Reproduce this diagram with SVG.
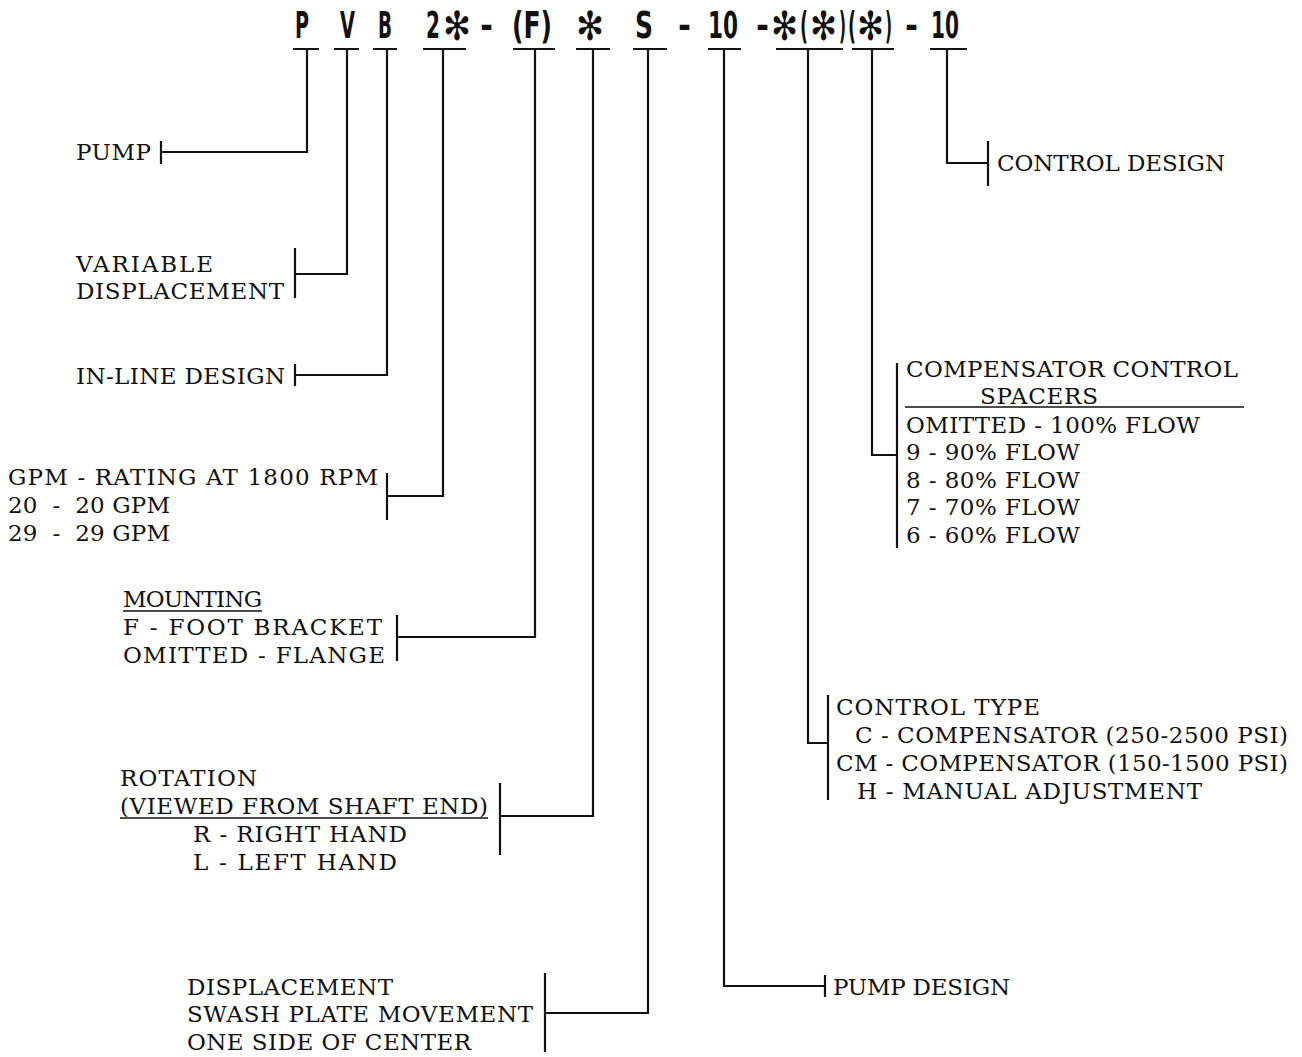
<svg xmlns="http://www.w3.org/2000/svg" width="1302" height="1057" viewBox="0 0 1302 1057">
<style>
.hd{font-family:"DejaVu Sans","Liberation Sans",sans-serif;font-weight:bold;font-size:38px;fill:#111}
.st{font-family:"DejaVu Sans","Liberation Sans",sans-serif;font-weight:normal;font-size:40px}
.t{font-family:"DejaVu Serif","Liberation Serif",serif;font-size:23px;fill:#111}
.ln{stroke:#111;stroke-width:2.2;fill:none}
.ul{stroke:#111;stroke-width:1.5}
</style>
<rect width="1302" height="1057" fill="#fff"/>
<g id="header">
<text class="hd" y="38"><tspan x="295" textLength="14" lengthAdjust="spacingAndGlyphs">P</tspan><tspan x="340" textLength="15" lengthAdjust="spacingAndGlyphs">V</tspan><tspan x="378" textLength="14" lengthAdjust="spacingAndGlyphs">B</tspan><tspan x="426" textLength="14" lengthAdjust="spacingAndGlyphs">2</tspan><tspan class="st" x="443" y="40" textLength="28" lengthAdjust="spacingAndGlyphs">✻</tspan><tspan x="480" y="38" textLength="13" lengthAdjust="spacingAndGlyphs">-</tspan><tspan x="512" textLength="40" lengthAdjust="spacingAndGlyphs">(F)</tspan><tspan class="st" x="576" y="40" textLength="28" lengthAdjust="spacingAndGlyphs">✻</tspan><tspan x="635" y="38" textLength="18" lengthAdjust="spacingAndGlyphs">S</tspan><tspan x="678" textLength="13" lengthAdjust="spacingAndGlyphs">-</tspan><tspan x="708" textLength="30" lengthAdjust="spacingAndGlyphs">10</tspan><tspan x="756" textLength="13" lengthAdjust="spacingAndGlyphs">-</tspan><tspan class="st" x="771" y="40" textLength="27" lengthAdjust="spacingAndGlyphs">✻</tspan><tspan x="800" y="38" textLength="8" lengthAdjust="spacingAndGlyphs">(</tspan><tspan class="st" x="810" y="40" textLength="27" lengthAdjust="spacingAndGlyphs">✻</tspan><tspan x="839" y="38" textLength="7" lengthAdjust="spacingAndGlyphs">)</tspan><tspan x="848" textLength="8" lengthAdjust="spacingAndGlyphs">(</tspan><tspan class="st" x="857" y="40" textLength="27" lengthAdjust="spacingAndGlyphs">✻</tspan><tspan x="885" y="38" textLength="7" lengthAdjust="spacingAndGlyphs">)</tspan><tspan x="905" textLength="13" lengthAdjust="spacingAndGlyphs">-</tspan><tspan x="931" textLength="28" lengthAdjust="spacingAndGlyphs">10</tspan></text>
</g>
<g id="connectors" class="ln">
<path d="M293 49H319M307 49V152H161M161 141V164"/>
<path d="M334 49H359M347 49V274H295M295 248V298"/>
<path d="M373 49H397M387 49V375H295M295 364V386"/>
<path d="M423 49H466M443 49V496H387M387 473V520"/>
<path d="M513 49H555M535 49V637H397M397 615V661"/>
<path d="M576 49H610M593 49V816H500M500 783V855"/>
<path d="M633 49H667M648 49V1013H545M545 973V1052"/>
<path d="M708 49H741M724 49V986H825M825 975V997"/>
<path d="M776 49H843M808 49V743H828M828 695V800"/>
<path d="M852 49H894M872 49V455H897M897 363V548"/>
<path d="M930 49H967M947 49V163H988M988 141V186"/>
</g>
<g id="n-pump"><text class="t" x="76" y="160" textLength="75">PUMP</text></g>
<g id="n-variable">
<text class="t" x="76" y="272" textLength="137">VARIABLE</text>
<text class="t" x="76" y="299" textLength="208">DISPLACEMENT</text>
</g>
<g id="n-inline"><text class="t" x="76" y="384" textLength="209">IN-LINE DESIGN</text></g>
<g id="n-gpm">
<text class="t" x="8" y="485" textLength="370">GPM - RATING AT 1800 RPM</text>
<text class="t" x="8" y="513" textLength="162" xml:space="preserve">20  -  20 GPM</text>
<text class="t" x="8" y="541" textLength="162" xml:space="preserve">29  -  29 GPM</text>
</g>
<g id="n-mounting">
<text class="t" x="123" y="607" textLength="139">MOUNTING</text>
<line class="ul" x1="123" y1="611" x2="262" y2="611"/>
<text class="t" x="123" y="635" textLength="259">F - FOOT BRACKET</text>
<text class="t" x="123" y="663" textLength="262">OMITTED - FLANGE</text>
</g>
<g id="n-rotation">
<text class="t" x="120" y="786" textLength="137">ROTATION</text>
<text class="t" x="120" y="814" textLength="368">(VIEWED FROM SHAFT END)</text>
<line class="ul" x1="120" y1="818" x2="488" y2="818"/>
<text class="t" x="193" y="842" textLength="214">R - RIGHT HAND</text>
<text class="t" x="193" y="870" textLength="204">L - LEFT HAND</text>
</g>
<g id="n-displacement">
<text class="t" x="187" y="995" textLength="206">DISPLACEMENT</text>
<text class="t" x="187" y="1022" textLength="346">SWASH PLATE MOVEMENT</text>
<text class="t" x="187" y="1050" textLength="284">ONE SIDE OF CENTER</text>
</g>
<g id="n-pumpdesign"><text class="t" x="833" y="995" textLength="177">PUMP DESIGN</text></g>
<g id="n-controltype">
<text class="t" x="836" y="715" textLength="204">CONTROL TYPE</text>
<text class="t" x="855" y="743" textLength="433">C - COMPENSATOR (250-2500 PSI)</text>
<text class="t" x="836" y="771" textLength="452">CM - COMPENSATOR (150-1500 PSI)</text>
<text class="t" x="857" y="799" textLength="345">H - MANUAL ADJUSTMENT</text>
</g>
<g id="n-spacers">
<text class="t" x="906" y="377" textLength="332">COMPENSATOR CONTROL</text>
<text class="t" x="980" y="404" textLength="118">SPACERS</text>
<line class="ul" x1="905" y1="407" x2="1244" y2="407"/>
<text class="t" x="906" y="433" textLength="294">OMITTED - 100% FLOW</text>
<text class="t" x="906" y="460" textLength="174">9 - 90% FLOW</text>
<text class="t" x="906" y="488" textLength="174">8 - 80% FLOW</text>
<text class="t" x="906" y="515" textLength="174">7 - 70% FLOW</text>
<text class="t" x="906" y="543" textLength="174">6 - 60% FLOW</text>
</g>
<g id="n-controldesign"><text class="t" x="997" y="171" textLength="228">CONTROL DESIGN</text></g>
</svg>
